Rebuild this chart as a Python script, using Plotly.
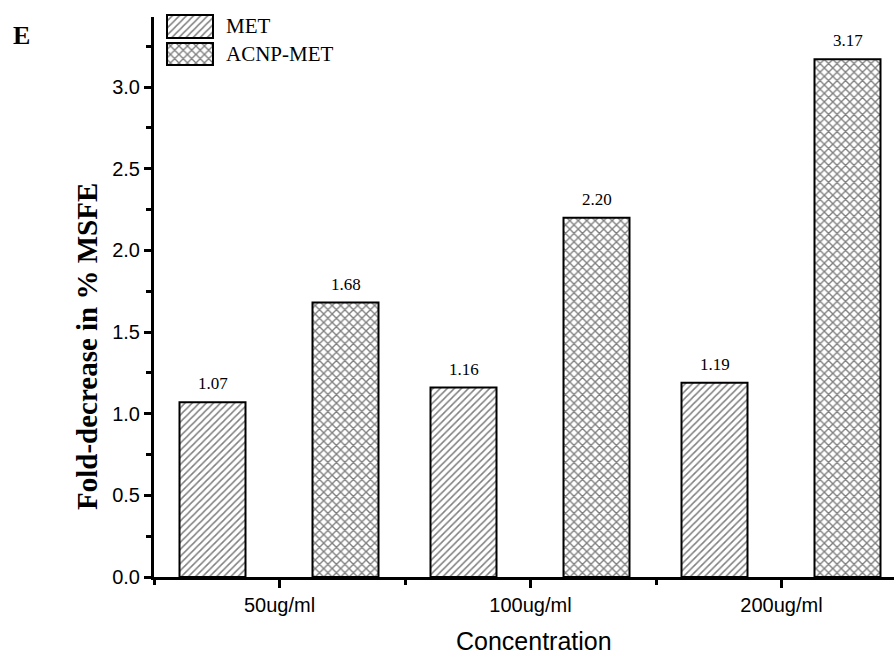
import plotly.graph_objects as go

# ---- data ----
categories = ["50ug/ml", "100ug/ml", "200ug/ml"]
met_values = [1.07, 1.16, 1.19]
acnp_values = [1.68, 2.20, 3.17]
series_names = ["MET", "ACNP-MET"]
y_tick_values = [0.0, 0.5, 1.0, 1.5, 2.0, 2.5, 3.0]

W, H = 894, 656
ML, MR, MT, MB = 154, 0, 10, 79
PH = H - MT - MB  # paper height in px
X0_PIX = 577      # y pixel of value 0

def py(pix):
    return (X0_PIX - pix) / PH

def px(pix):
    return (pix - ML) / (W - ML - MR)

cat_px = 251.0
xpos = list(range(len(categories)))
bar_w = 66 / cat_px
off_met = -100 / cat_px
off_acnp = 33 / cat_px
unit_px = 163.33
ymax = (X0_PIX - 17) / unit_px

pat_met = dict(shape="/", size=5, solidity=0.3, fgcolor="black", bgcolor="white")
pat_acnp = dict(shape="x", size=6, solidity=0.4, fgcolor="black", bgcolor="white")

fig = go.Figure()
fig.add_trace(go.Bar(
    x=xpos, y=met_values, name=series_names[0], width=bar_w, offset=off_met,
    marker=dict(color="white", line=dict(color="black", width=2), pattern=pat_met),
    showlegend=False))
fig.add_trace(go.Bar(
    x=xpos, y=acnp_values, name=series_names[1], width=bar_w, offset=off_acnp,
    marker=dict(color="white", line=dict(color="black", width=2), pattern=pat_acnp),
    showlegend=False))

# value labels
for i, v in enumerate(met_values):
    fig.add_annotation(x=xpos[i] + off_met + bar_w / 2, y=v, text=f"{v:.2f}", showarrow=False,
                       yanchor="bottom", yshift=7, font=dict(family="Liberation Serif", size=17, color="black"))
for i, v in enumerate(acnp_values):
    fig.add_annotation(x=xpos[i] + off_acnp + bar_w / 2, y=v, text=f"{v:.2f}", showarrow=False,
                       yanchor="bottom", yshift=7, font=dict(family="Liberation Serif", size=17, color="black"))

# custom legend on inset axes (pixel-valued ranges)
leg_x = [162, 218]
leg_y = [12, 68]
fig.add_trace(go.Bar(
    y=[26.5], x=[46], base=[167], width=[23], orientation="h", xaxis="x2", yaxis="y2",
    marker=dict(color="white", line=dict(color="black", width=2), pattern=pat_met),
    showlegend=False, hoverinfo="skip"))
fig.add_trace(go.Bar(
    y=[54], x=[46], base=[167], width=[22], orientation="h", xaxis="x2", yaxis="y2",
    marker=dict(color="white", line=dict(color="black", width=2), pattern=pat_acnp),
    showlegend=False, hoverinfo="skip"))
for name, yc in zip(series_names, [26.5, 54]):
    fig.add_annotation(x=px(224), y=py(yc), xref="paper", yref="paper", text=name, showarrow=False,
                       xanchor="left", yanchor="middle",
                       font=dict(family="Liberation Serif", size=21, color="black"))

# panel label and axis titles
fig.add_annotation(x=px(21), y=py(35), xref="paper", yref="paper", text="<b>E</b>", showarrow=False,
                   xanchor="center", yanchor="middle",
                   font=dict(family="Liberation Serif", size=26, color="black"))
fig.add_annotation(x=px(87), y=py(347), xref="paper", yref="paper", text="<b>Fold-decrease in % MSFE</b>",
                   textangle=-90, showarrow=False, xanchor="center", yanchor="middle",
                   font=dict(family="Liberation Serif", size=29, color="black"))
fig.add_annotation(x=px(534), y=py(641), xref="paper", yref="paper", text="Concentration",
                   showarrow=False, xanchor="center", yanchor="middle",
                   font=dict(family="Liberation Sans", size=25, color="black"))

fig.update_layout(
    width=W, height=H, margin=dict(l=ML, r=MR, t=MT, b=MB),
    paper_bgcolor="white", plot_bgcolor="white", barmode="overlay",
    font=dict(family="Liberation Sans", color="black"),
    xaxis=dict(range=[-0.5, -0.5 + (W - ML - MR) / cat_px], tickvals=xpos, ticktext=categories,
               showline=True, linecolor="black", linewidth=3, ticks="outside", ticklen=8,
               tickwidth=3, tickcolor="black", showgrid=False, zeroline=False,
               tickfont=dict(family="Liberation Sans", size=20, color="black"),
               minor=dict(tickvals=[-0.5, 0.5, 1.5], ticks="outside", ticklen=5, tickwidth=2.5,
                          tickcolor="black", showgrid=False)),
    yaxis=dict(range=[0, ymax], domain=[0, py(17)], tickvals=y_tick_values, tickformat=".1f",
               showline=True, linecolor="black", linewidth=3, ticks="outside", ticklen=7,
               tickwidth=3, tickcolor="black", showgrid=False, zeroline=False,
               tickfont=dict(family="Liberation Sans", size=20, color="black"),
               minor=dict(dtick=0.25, tick0=0, ticks="outside", ticklen=5, tickwidth=2.5,
                          tickcolor="black", showgrid=False)),
    xaxis2=dict(domain=[px(leg_x[0]), px(leg_x[1])], range=leg_x, anchor="y2",
                visible=False, fixedrange=True),
    yaxis2=dict(domain=[py(leg_y[1]), py(leg_y[0])], range=[leg_y[1], leg_y[0]], anchor="x2",
                visible=False, fixedrange=True),
)

fig.write_html("out.html")
